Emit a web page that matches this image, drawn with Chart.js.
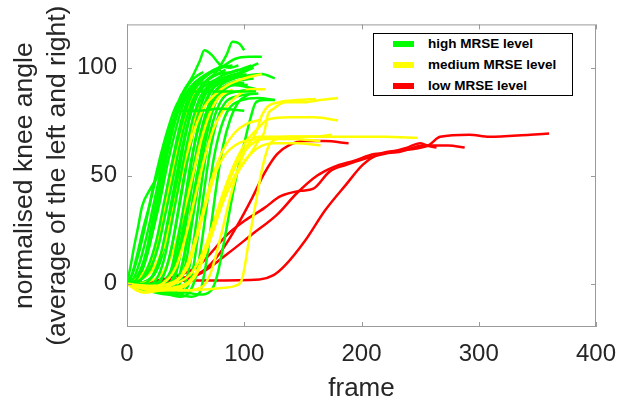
<!DOCTYPE html>
<html>
<head>
<meta charset="utf-8">
<script src="https://cdn.jsdelivr.net/npm/chart.js@4/dist/chart.umd.min.js"></script>
<style>
	body { margin: 0; background: #fff; }
	#wrap { position: relative; width: 638px; height: 401px; }
	#legend {
		position: absolute; left: 373px; top: 33px; width: 198px; height: 61px;
		border: 1px solid #000; background: #fff;
		font: bold 13.5px "Liberation Sans", Arial, sans-serif; color: #000;
	}
	.row { position: absolute; left: 0; height: 16px; line-height: 16px; }
	.row span.bar { position: absolute; left: 19px; top: 5px; width: 21px; height: 6px; }
	.row span.txt { position: absolute; left: 54px; top: 0; white-space: nowrap; }
</style>
</head>
<body>
<div id="wrap">
	<canvas id="chart" width="638" height="401"></canvas>
	<div id="legend"></div>
</div>
<script>
// tick labels
const xTicks = [0, 100, 200, 300, 400];
const yTicks = [0, 50, 100];

// legend
const groupLabels = ["high MRSE level", "medium MRSE level", "low MRSE level"];
const groupColors = ["#00ff00", "#ffff00", "#ff0000"];

// curves as [frame, normalised knee angle]
const highMrse = [
	[[0,0],[3,8],[6,17],[9,25],[13,36],[20,44],[26,50],[30,58],[35,66],[41,78],[47,88],[60,89],[80,89],[100,89],[110,89]],
	[[0,0],[4,4],[8,12],[14,26],[20,38],[26,52],[32,64],[38,74],[44,80],[60,80],[80,81],[100,80]],
	[[0,0],[6,3],[12,12],[18,25],[24,40],[30,55],[36,68],[42,80],[48,89],[55,95],[62,103],[66,108],[72,106],[80,101],[88,100],[95,101]],
	[[0,0],[8,2],[15,10],[21,22],[28,38],[34,54],[40,68],[46,80],[52,88],[58,93],[66,96],[76,99],[86,101]],
	[[0,0],[10,1],[18,8],[25,20],[31,36],[37,52],[43,66],[49,78],[55,87],[62,93],[70,97],[80,100],[92,104],[104,105],[115,105]],
	[[0,0],[12,2],[20,7],[27,18],[33,33],[39,48],[45,64],[51,77],[57,86],[64,92],[74,96],[84,99]],
	[[0,0],[14,0],[22,4],[29,14],[35,30],[41,47],[47,63],[53,76],[59,86],[66,93],[76,98],[85,106],[90,112],[96,111],[100,108]],
	[[0,0],[15,-1],[25,2],[32,12],[38,28],[44,45],[50,62],[56,76],[62,86],[70,92],[80,96],[95,99]],
	[[0,0],[16,-2],[27,0],[34,8],[40,22],[46,40],[52,58],[58,73],[64,84],[71,91],[82,95],[95,97],[108,100]],
	[[0,0],[18,-3],[30,-2],[37,5],[43,20],[49,38],[54,55],[60,70],[66,82],[73,90],[84,94],[100,96],[115,97],[126,95]],
	[[0,0],[18,-3],[32,-4],[39,2],[45,16],[50,33],[56,52],[62,68],[68,80],[75,88],[86,92],[100,93]],
	[[0,0],[20,-2],[34,-3],[41,3],[47,18],[52,36],[58,54],[64,70],[70,82],[77,90],[88,95],[102,97]],
	[[0,0],[22,-3],[36,-4],[43,1],[49,14],[54,32],[60,50],[65,66],[71,79],[78,88],[90,93],[105,95]],
	[[0,0],[24,-4],[38,-5],[45,0],[51,12],[56,30],[62,50],[67,66],[73,80],[80,88],[92,92],[110,90]],
	[[0,0],[25,-3],[40,-5],[48,-2],[54,10],[59,28],[64,48],[69,65],[75,78],[82,86],[95,89],[110,90]],
	[[0,0],[28,-4],[42,-5],[50,-3],[56,6],[61,24],[66,44],[71,62],[77,76],[84,84],[96,87],[112,88]],
	[[0,0],[30,-4],[45,-6],[53,-4],[59,4],[64,20],[69,40],[74,58],[80,72],[87,81],[98,85],[112,86],[126,85]],
	[[0,0],[30,-3],[50,-4],[62,-5],[72,-3],[77,4],[83,20],[89,38],[95,54],[100,65],[105,76],[110,84],[117,85],[126,85]],
	[[0,0],[25,-3],[45,-5],[55,-6],[62,-4],[67,8],[72,28],[77,48],[82,64],[88,76],[95,84],[105,88]],
	[[0,0],[10,4],[16,14],[22,30],[28,46],[34,62],[40,74],[46,83],[52,89],[60,92],[70,94]],
	[[0,0],[12,5],[18,15],[24,30],[30,48],[36,64],[42,77],[48,86],[54,91],[62,95],[72,98],[80,99]],
	[[0,0],[14,3],[22,12],[29,28],[35,46],[41,63],[47,77],[53,87],[60,93],[68,97],[78,100],[90,101]],
	[[0,0],[16,1],[25,6],[32,18],[38,35],[44,53],[50,70],[56,82],[62,89],[70,93],[82,95]],
	[[0,0],[20,0],[30,3],[37,14],[43,32],[49,51],[55,68],[60,80],[66,88],[74,93],[86,96],[100,98]],
	[[0,0],[22,-1],[33,2],[40,10],[46,26],[52,45],[57,63],[63,78],[69,87],[77,93],[90,96],[104,100],[112,102]],
	[[0,0],[24,-2],[36,0],[43,8],[49,24],[55,44],[60,62],[66,76],[72,86],[80,92],[92,95]],
	[[0,0],[26,-2],[38,-1],[46,6],[52,22],[57,42],[63,60],[68,75],[74,85],[82,91],[95,94],[108,95]],
	[[0,0],[5,5],[10,14],[16,28],[22,44],[28,58],[34,70],[40,80],[46,86],[54,89],[65,90]],
	[[0,0],[8,3],[14,10],[20,22],[26,38],[32,55],[38,70],[44,82],[50,90],[57,95],[65,98]],
	[[0,0],[20,-1],[32,1],[40,8],[47,22],[53,40],[59,58],[65,74],[72,85],[80,90],[90,92],[103,92]],
	[[0,0],[15,1],[24,5],[31,15],[37,30],[43,48],[49,66],[55,80],[61,89],[68,94],[78,97],[90,98],[106,101]]
];

const mediumMrse = [
	[[0,0],[20,-1],[40,0],[55,5],[65,15],[75,30],[85,45],[95,57],[105,64],[115,67],[140,68],[180,68],[220,68],[248,67.5]],
	[[0,0],[20,-2],[40,-2],[55,2],[65,12],[75,28],[85,42],[95,52],[105,60],[112,66],[117,70],[120,78],[125,81],[135,84],[150,84],[165,85],[180,86]],
	[[0,0],[25,-3],[45,-2],[60,5],[70,20],[80,38],[90,52],[100,62],[110,70],[115,78],[120,82],[130,84],[145,85],[161,85.5]],
	[[0,0],[15,-4],[30,-3],[50,-1],[62,8],[72,25],[82,42],[92,56],[102,66],[112,72],[120,76],[140,77],[160,77],[180,75.5]],
	[[0,0],[20,-3],[50,-3],[80,-2],[92,-1],[98,2],[104,20],[110,38],[116,55],[121,64],[128,67],[140,68],[160,68],[175,69]],
	[[0,0],[20,-1],[40,1],[52,8],[60,22],[68,38],[76,52],[84,60],[92,64],[100,66],[120,67],[140,67],[165,66]],
	[[0,0],[15,-2],[30,0],[42,8],[50,22],[58,40],[66,58],[74,72],[82,80],[92,86],[105,90],[118,90]],
	[[0,0],[12,2],[24,8],[34,22],[42,40],[50,58],[58,72],[66,82],[76,88],[86,92],[100,95],[115,97]],
	[[0,0],[10,3],[20,10],[28,25],[35,42],[42,60],[48,74],[54,84],[60,90]],
	[[0,0],[18,1],[30,5],[40,16],[48,32],[56,50],[63,66],[70,78],[78,86],[90,90]],
	[[0,0],[25,-2],[40,0],[52,10],[62,28],[72,48],[82,62],[92,70],[102,74],[115,76]],
	[[0,0],[30,-2],[50,0],[62,8],[72,22],[82,38],[92,50],[102,58],[112,63],[125,65],[145,65],[165,64]],
	[[0,0],[8,2],[20,6],[30,15],[38,30],[45,48],[52,64],[58,76],[64,84]],
	[[0,0],[8,-3],[15,-4],[30,-3],[50,-3],[65,-1],[72,6],[80,22],[88,40],[96,55],[104,65],[112,68],[130,68],[155,68],[170,68]]
];

const lowMrse = [
	[[0,0],[30,1],[60,1.5],[113,2],[125,4],[134,8],[152,20],[169,34],[187,46],[201,55],[215,60],[239,62],[257,64],[267,68],[292,69],[309,68],[344,69],[360,69.5]],
	[[0,0],[30,2],[60,8],[86,23],[100,29],[117,35],[131,40.5],[148,43],[159,44],[173,52],[187,55],[204,58],[222,60.5],[239,63],[250,65],[257,64],[274,64],[288,63]],
	[[0,0],[30,1],[60,4],[86,14],[107,23],[128,32],[145,42],[162,50],[176,54],[194,57],[211,60],[232,61],[253,64],[264,63]],
	[[0,0],[30,1],[50,3],[65,6],[79,14],[93,26],[107,40],[117,51],[128,60],[138,64],[152,66],[169,66],[189,65]]
];

function toPoints(curve) {
	return curve.map((p) => ({ x: p[0], y: p[1] }));
}

function makeDataset(curve, color) {
	return {
		data: toPoints(curve),
		borderColor: color,
		borderWidth: 2.5,
		pointRadius: 0,
		cubicInterpolationMode: "monotone",
		fill: false,
	};
}

// mix green and yellow so both show through the bundle, red stays underneath
const datasets = [];
const mixLen = Math.max(highMrse.length, mediumMrse.length);
for (let i = 0; i < mixLen; i++) {
	if (i < mediumMrse.length && i % 2 === 0) datasets.push(makeDataset(mediumMrse[i], groupColors[1]));
	if (i < highMrse.length) datasets.push(makeDataset(highMrse[i], groupColors[0]));
	if (i < mediumMrse.length && i % 2 === 1) datasets.push(makeDataset(mediumMrse[i], groupColors[1]));
}
lowMrse.forEach((curve) => datasets.push(makeDataset(curve, groupColors[2])));

// axes box with inward ticks, like matlab
const boxPlugin = {
	id: "box",
	afterDraw(chart) {
		const ctx = chart.ctx;
		const a = chart.chartArea;
		const xs = chart.scales.x;
		const ys = chart.scales.y;
		ctx.save();
		ctx.strokeStyle = "#9a9a9a";
		ctx.lineWidth = 1;
		ctx.strokeRect(a.left + 0.5, a.top + 0.5, a.right - a.left - 1, a.bottom - a.top - 1);
		ctx.beginPath();
		xTicks.forEach((v) => {
			const px = Math.round(xs.getPixelForValue(v)) + 0.5;
			ctx.moveTo(px, a.bottom);
			ctx.lineTo(px, a.bottom - 5);
			ctx.moveTo(px, a.top);
			ctx.lineTo(px, a.top + 5);
		});
		yTicks.forEach((v) => {
			const py = Math.round(ys.getPixelForValue(v)) + 0.5;
			ctx.moveTo(a.left, py);
			ctx.lineTo(a.left + 5, py);
			ctx.moveTo(a.right, py);
			ctx.lineTo(a.right - 5, py);
		});
		ctx.stroke();
		ctx.restore();
	},
};

const font = "'Liberation Sans', Arial, sans-serif";

new Chart(document.getElementById("chart"), {
	type: "line",
	data: { datasets: datasets },
	options: {
		responsive: false,
		animation: false,
		layout: { padding: { top: 23, right: 42, left: 0, bottom: 0 } },
		plugins: { legend: { display: false }, tooltip: { enabled: false } },
		scales: {
			x: {
				type: "linear",
				min: 0,
				max: 400,
				grid: { display: false, drawTicks: false },
				border: { display: false },
				afterBuildTicks: (s) => { s.ticks = xTicks.map((v) => ({ value: v })); },
				afterFit: (s) => { s.height = 74; },
				ticks: { color: "#262626", font: { family: font, size: 24 }, padding: 13, maxRotation: 0 },
				title: { display: true, text: "frame", color: "#262626", font: { family: font, size: 26 }, padding: { top: 0, bottom: -3 } },
			},
			y: {
				type: "linear",
				min: -20,
				max: 120,
				grid: { display: false, drawTicks: false },
				border: { display: false },
				afterBuildTicks: (s) => { s.ticks = yTicks.map((v) => ({ value: v })); },
				afterFit: (s) => { s.width = 127; },
				ticks: { color: "#262626", font: { family: font, size: 24 }, padding: 10 },
				title: {
					display: true,
					text: ["normalised knee angle", "(average of the left and right)"],
					color: "#262626",
					font: { family: font, size: 26.5, lineHeight: 1.245 },
					padding: { top: 8, bottom: 0 },
				},
			},
		},
	},
	plugins: [boxPlugin],
});

// html legend
const legend = document.getElementById("legend");
const rowTops = [2, 22.5, 44];
groupLabels.forEach((label, i) => {
	const row = document.createElement("div");
	row.className = "row";
	row.style.top = rowTops[i] + "px";
	row.innerHTML = `<span class="bar" style="background:${groupColors[i]}"></span><span class="txt">${label}</span>`;
	legend.appendChild(row);
});
</script>
</body>
</html>
